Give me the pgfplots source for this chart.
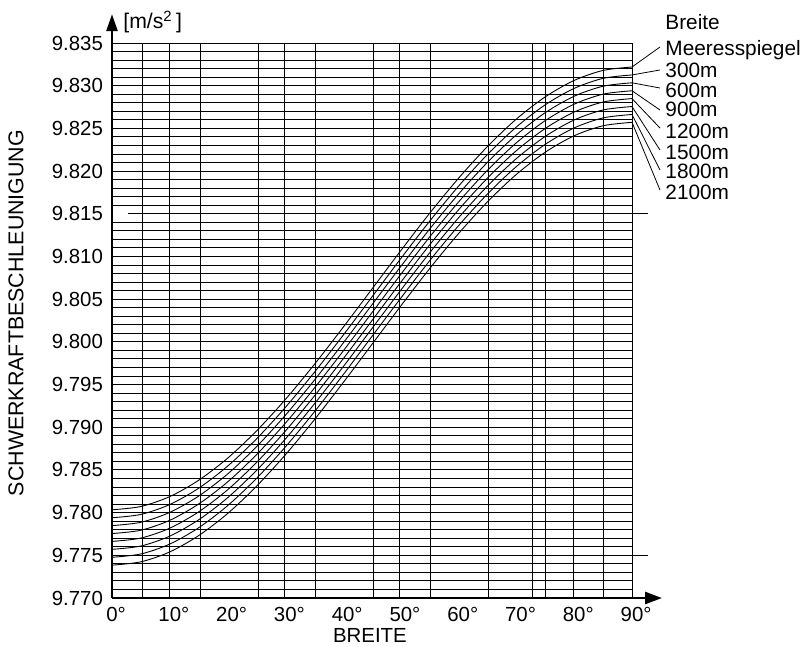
\documentclass[border=0pt]{standalone}
\usepackage{fontspec}
\setmainfont{Liberation Sans}
\usepackage{pgfplots}
\pgfplotsset{compat=1.18}
\usepackage{pgfplotstable}
\usetikzlibrary{arrows.meta}

\pgfplotstableread{
lat h0 h300 h600 h900 h1200 h1500 h1800 h2100
0  9.78033 9.77940 9.77848 9.77755 9.77663 9.77570 9.77477 9.77385
5  9.78072 9.77979 9.77887 9.77794 9.77702 9.77609 9.77516 9.77424
10 9.78188 9.78095 9.78003 9.77910 9.77818 9.77725 9.77632 9.77540
15 9.78379 9.78286 9.78194 9.78101 9.78009 9.77916 9.77823 9.77731
20 9.78637 9.78544 9.78452 9.78359 9.78267 9.78174 9.78081 9.77989
25 9.78956 9.78863 9.78771 9.78678 9.78586 9.78493 9.78400 9.78308
30 9.79325 9.79232 9.79140 9.79047 9.78955 9.78862 9.78769 9.78677
35 9.79734 9.79641 9.79549 9.79456 9.79364 9.79271 9.79178 9.79086
40 9.80170 9.80077 9.79985 9.79892 9.79800 9.79707 9.79614 9.79522
45 9.80620 9.80527 9.80435 9.80342 9.80250 9.80157 9.80064 9.79972
50 9.81070 9.80977 9.80885 9.80792 9.80700 9.80607 9.80514 9.80422
55 9.81508 9.81415 9.81323 9.81230 9.81138 9.81045 9.80952 9.80860
60 9.81918 9.81825 9.81733 9.81640 9.81548 9.81455 9.81362 9.81270
65 9.82289 9.82196 9.82104 9.82011 9.81919 9.81826 9.81733 9.81641
70 9.82610 9.82517 9.82425 9.82332 9.82240 9.82147 9.82054 9.81962
75 9.82870 9.82777 9.82685 9.82592 9.82500 9.82407 9.82314 9.82222
80 9.83062 9.82969 9.82877 9.82784 9.82692 9.82599 9.82506 9.82414
85 9.83179 9.83086 9.82994 9.82901 9.82809 9.82716 9.82623 9.82531
90 9.83219 9.83126 9.83034 9.82941 9.82849 9.82756 9.82663 9.82571
}\gdata

\begin{document}
\begin{tikzpicture}
\begin{axis}[
  scale only axis, width=260pt, height=277.5pt,
  xmin=0, xmax=90, ymin=9.770, ymax=9.835,
  clip=false,
  axis line style={draw=none},
  xtick={0,10,20,30,40,50,60,70,80,90},
  ytick={9.770,9.775,9.780,9.785,9.790,9.795,9.800,9.805,9.810,9.815,9.820,9.825,9.830,9.835},
  minor xtick={5.3,9.9,15.3,25.3,29.9,35.3,45.2,49.8,55.2,65.1,72.7,75.1,79.9,85,90},
  minor ytick={9.770,9.771,9.772,9.773,9.774,9.775,9.776,9.777,9.778,9.779,9.780,9.781,9.782,9.783,9.784,9.785,9.786,9.787,9.788,9.789,9.790,9.791,9.792,9.793,9.794,9.795,9.796,9.797,9.798,9.799,9.800,9.801,9.802,9.803,9.804,9.805,9.806,9.807,9.808,9.809,9.810,9.811,9.812,9.813,9.814,9.816,9.817,9.818,9.819,9.820,9.821,9.822,9.823,9.824,9.825,9.826,9.827,9.828,9.829,9.830,9.831,9.832,9.833,9.834,9.835},
  grid=minor,
  minor grid style={black, line width=0.5pt},
  major tick length=0pt, minor tick length=0pt,
  tick label style={font=\fontsize{10.2}{12}\selectfont},
  /pgf/number format/assume math mode=true,
  xticklabel={\pgfmathprintnumber{\tick}\rlap{°}},
  xticklabel style={yshift=-1pt},
  yticklabel style={xshift=-1pt, /pgf/number format/.cd, fixed, fixed zerofill, precision=3},
  xlabel={BREITE},
  ylabel={SCHWERKRAFTBESCHLEUNIGUNG},
  xlabel style={font=\fontsize{10.2}{12}\selectfont, at={(axis description cs:0.496,-0.0667)}, anchor=center},
  ylabel style={font=\fontsize{10.7}{12}\selectfont, at={(axis description cs:-0.1846,0.5135)}, anchor=center},
]
\foreach \c in {h0,h300,h600,h900,h1200,h1500,h1800,h2100}{
  \addplot[black, line width=0.45pt, smooth, no marks] table[x=lat, y=\c] {\gdata};
}
% extended lines
\draw[black, line width=0.5pt] (axis cs:2.8,9.815) -- (axis cs:92.8,9.815);
\draw[black, line width=0.5pt] (axis cs:90,9.775) -- (axis cs:92.8,9.775);
% axes with arrows
\draw[black, line width=1.3pt, -{Triangle[length=8.5pt,width=6pt]}] (rel axis cs:0,0) -- (rel axis cs:1.0577,0);
\draw[black, line width=1.3pt, -{Triangle[length=8.5pt,width=5.5pt]}] (rel axis cs:0,0) -- (rel axis cs:0,1.052);
\node[anchor=west, font=\fontsize{10.6}{12}\selectfont, inner sep=0pt] at (rel axis cs:0.0212,1.0378) {[m/s\textsuperscript{2}\,]};
% leader lines
\draw[black, line width=0.4pt] (axis cs:90,9.83219) -- (rel axis cs:1.0538,0.9928);
\draw[black, line width=0.4pt] (axis cs:90,9.83126) -- (rel axis cs:1.0538,0.9514);
\draw[black, line width=0.4pt] (axis cs:90,9.83034) -- (rel axis cs:1.0538,0.9189);
\draw[black, line width=0.4pt] (axis cs:90,9.82941) -- (rel axis cs:1.0538,0.8793);
\draw[black, line width=0.4pt] (axis cs:90,9.82849) -- (rel axis cs:1.0538,0.8468);
\draw[black, line width=0.4pt] (axis cs:90,9.82756) -- (rel axis cs:1.0538,0.8072);
\draw[black, line width=0.4pt] (axis cs:90,9.82663) -- (rel axis cs:1.0538,0.7712);
\draw[black, line width=0.4pt] (axis cs:90,9.82571) -- (rel axis cs:1.0538,0.7351);
% labels
\begin{scope}[every node/.style={anchor=base west, inner sep=0pt, font=\fontsize{10.4}{12}\selectfont}]
\node at (rel axis cs:1.0635,1.0243) {Breite};
\node at (rel axis cs:1.0635,0.9766) {Meeresspiegel};
\node at (rel axis cs:1.0635,0.9387) {300m};
\node at (rel axis cs:1.0635,0.9027) {600m};
\node at (rel axis cs:1.0635,0.8667) {900m};
\node at (rel axis cs:1.0635,0.8288) {1200m};
\node at (rel axis cs:1.0635,0.7910) {1500m};
\node at (rel axis cs:1.0635,0.7550) {1800m};
\node at (rel axis cs:1.0635,0.7189) {2100m};
\end{scope}
\coordinate (BL) at (rel axis cs:-0.21538,-0.086486);
\coordinate (TR) at (rel axis cs:1.33077,1.07748);
\end{axis}
\pgfresetboundingbox
\path[use as bounding box] (BL) rectangle (TR);
\end{tikzpicture}
\end{document}
